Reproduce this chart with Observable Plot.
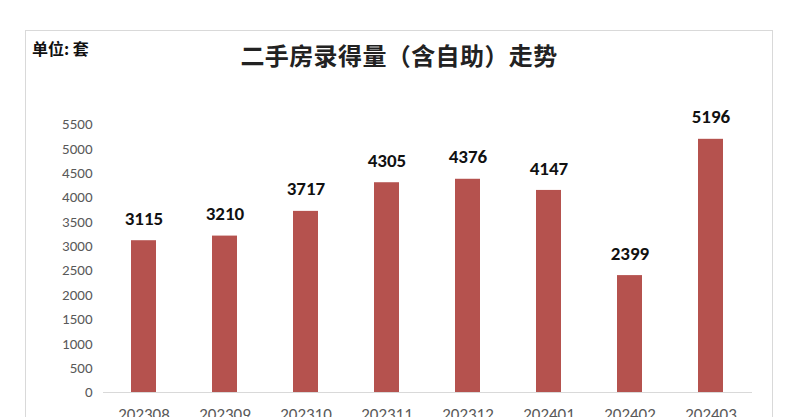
<!DOCTYPE html>
<html>
<head>
<meta charset="utf-8">
<script src="https://cdn.jsdelivr.net/npm/d3@7"></script>
<script src="https://cdn.jsdelivr.net/npm/@observablehq/plot@0.6"></script>
<style>
  html, body { margin: 0; padding: 0; background: #fff; overflow: hidden; }
  #frame { position: absolute; left: 25px; top: 30px; width: 748px; height: 420px; border: 1px solid #d9d9d9; box-sizing: border-box; }
  #unit { position: absolute; left: 6px; top: 5px; font: bold 16px "Noto Sans CJK SC", sans-serif; color: #111; }
  #title { position: absolute; left: 0; width: 746px; top: 6px; text-align: center; font: 600 24px "Noto Sans CJK SC", serif; color: #222; letter-spacing: 0.4px; }
  #chart { position: absolute; left: 0; top: 0; }
</style>
</head>
<body>
<div id="frame">
  <div id="chart"></div>
  <div id="unit">单位: 套</div>
  <div id="title">二手房录得量（含自助）走势</div>
</div>
<script>
const months = ["202308","202309","202310","202311","202312","202401","202402","202403"];
const values = [3115, 3210, 3717, 4305, 4376, 4147, 2399, 5196];
const yTicks = [0,500,1000,1500,2000,2500,3000,3500,4000,4500,5000,5500];

const data = months.map((m, i) => ({month: m, value: values[i]}));

const chart = Plot.plot({
  width: 746,
  height: 400,
  marginLeft: 77,
  marginRight: 20,
  marginTop: 93,
  marginBottom: 39,
  style: {background: "transparent", fontFamily: "Carlito, Calibri, 'Liberation Sans', sans-serif"},
  x: {domain: months, paddingInner: 0.69, paddingOuter: 0.35, label: null},
  y: {domain: [0, 5500], label: null},
  marks: [
    Plot.axisY({ticks: yTicks, tickFormat: d => String(d), tickSize: 0, tickPadding: 11, fontSize: 15, color: "#595959", textAnchor: "end"}),
    Plot.axisX({tickSize: 0, tickPadding: 15, fontSize: 17, color: "#595959"}),
    Plot.ruleY([0], {stroke: "#d9d9d9", strokeWidth: 1}),
    Plot.barY(data, {x: "month", y: "value", fill: "#b5524e"}),
    Plot.text(data, {x: "month", y: "value", text: d => String(d.value), dy: -22, fontSize: 19, fontWeight: "bold", fill: "#111"})
  ]
});
document.getElementById("chart").appendChild(chart);
</script>
</body>
</html>
